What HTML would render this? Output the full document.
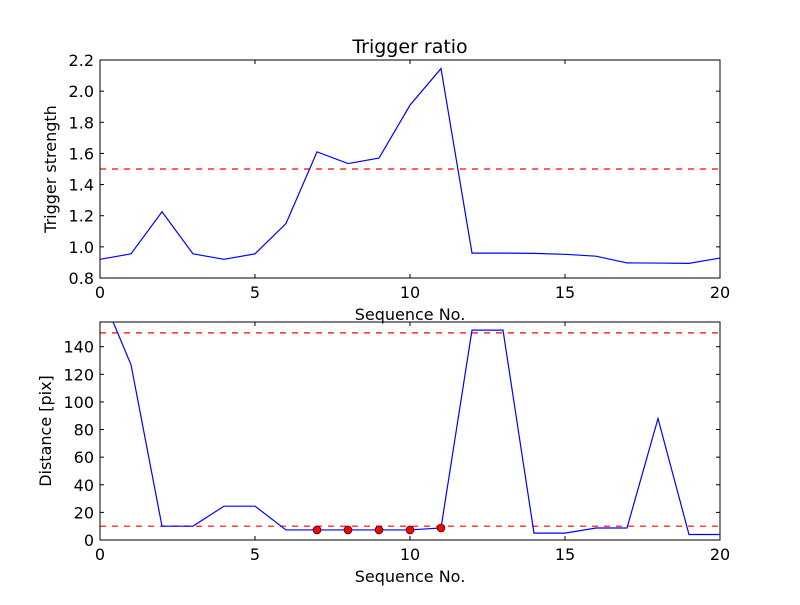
<!DOCTYPE html>
<html><head><meta charset="utf-8"><style>
body{margin:0;background:#fff}
svg text{font-family:"DejaVu Sans","Liberation Sans",sans-serif;fill:#000}
</style></head><body>
<svg id="fig" width="800" height="600" viewBox="0 0 800 600" xmlns="http://www.w3.org/2000/svg">
<rect width="800" height="600" fill="#fff"/>
</svg>
<script>
const seqX = [0,1,2,3,4,5,6,7,8,9,10,11,12,13,14,15,16,17,18,19,20];
const triggerStrength = [0.92,0.955,1.225,0.955,0.92,0.955,1.15,1.61,1.535,1.57,1.91,2.145,0.96,0.96,0.958,0.952,0.94,0.897,0.896,0.894,0.928];
const distance = [180.5,127,10,10,24.5,24.5,7.3,7.3,7.3,7.3,7.3,8.7,152,152,5,5,8.7,8.7,88,4,4];
const markerX = [7,8,9,10,11];
const markerY = [7.3,7.3,7.3,7.3,8.7];
const topThreshold = [1.5];
const bottomThresholds = [10,150];
const xTicks = [0,5,10,15,20];
const topYTicks = ["0.8","1.0","1.2","1.4","1.6","1.8","2.0","2.2"];
const bottomYTicks = [0,20,40,60,80,100,120,140];

const NS="http://www.w3.org/2000/svg";
const svg=document.getElementById('fig');
function mk(tag,attrs,parent){const e=document.createElementNS(NS,tag);for(const k in attrs)e.setAttribute(k,attrs[k]);(parent||svg).appendChild(e);return e;}

function panel(name,L,T,R,B,ymin,ymax,yticks,ys,hlines,ylabel,title,markers){
  const g=mk('g',{});
  
  
  const sx=v=>L+(v-0)/(20-0)*(R-L);
  const sy=v=>B-(v-ymin)/(ymax-ymin)*(B-T);
  const clipId=name+'-clip';
  const cp=mk('clipPath',{id:clipId},g);
  mk('rect',{x:L,y:T,width:R-L,height:B-T},cp);
  const plot=mk('g',{'clip-path':'url(#'+clipId+')'},g);
  hlines.forEach(h=>{
    const l=mk('line',{x1:L,x2:R,y1:sy(h),y2:sy(h),stroke:'#ff0000','stroke-width':1.2,'stroke-dasharray':'6,6'},plot);
    
    
  });
  const pts=seqX.map((x,i)=>sx(x).toFixed(2)+','+sy(ys[i]).toFixed(2)).join(' ');
  const pl=mk('polyline',{points:pts,fill:'none',stroke:'#0000ff','stroke-width':1.2},plot);
  
  
  if(markers){markerX.forEach((x,i)=>{
    const c=mk('circle',{cx:sx(x),cy:sy(markerY[i]),r:4,fill:'#ff0000',stroke:'#000','stroke-width':0.6},plot);
    
    
  });}
  const fr=mk('rect',{x:L,y:T,width:R-L,height:B-T,fill:'none',stroke:'#000','stroke-width':1},g);
  
  
  xTicks.forEach(v=>{
    const x=sx(v);
    mk('line',{x1:x,x2:x,y1:B,y2:B-4,stroke:'#000'},g);
    mk('line',{x1:x,x2:x,y1:T,y2:T+4,stroke:'#000'},g);
    const t=mk('text',{x:x,y:B+20,'text-anchor':'middle','font-size':16},g);
    t.textContent=v;
    
    
  });
  yticks.forEach(v=>{
    const y=sy(parseFloat(v));
    mk('line',{x1:L,x2:L+4,y1:y,y2:y,stroke:'#000'},g);
    mk('line',{x1:R,x2:R-4,y1:y,y2:y,stroke:'#000'},g);
    const t=mk('text',{x:L-6,y:y+6,'text-anchor':'end','font-size':16},g);
    t.textContent=v;
    
    
  });
  const xl=mk('text',{x:(L+R)/2,y:B+42,'text-anchor':'middle','font-size':16},g);
  xl.textContent='Sequence No.';
  
  
  const yl=mk('text',{x:0,y:0,'text-anchor':'middle','font-size':16,transform:'translate('+(name==='top-panel'?56:51)+','+((T+B)/2)+') rotate(-90)'},g);
  yl.textContent=ylabel;
  
  
  if(title){
    const tt=mk('text',{x:(L+R)/2,y:T-7,'text-anchor':'middle','font-size':19},g);
    tt.textContent=title;
    
    
  }
}
panel('top-panel',100,60,720,278,0.8,2.2,topYTicks,triggerStrength,topThreshold,'Trigger strength','Trigger ratio',false);
panel('bottom-panel',100,322,720,540,0,157.9,bottomYTicks,distance,bottomThresholds,'Distance [pix]',null,true);
</script>
</body></html>
